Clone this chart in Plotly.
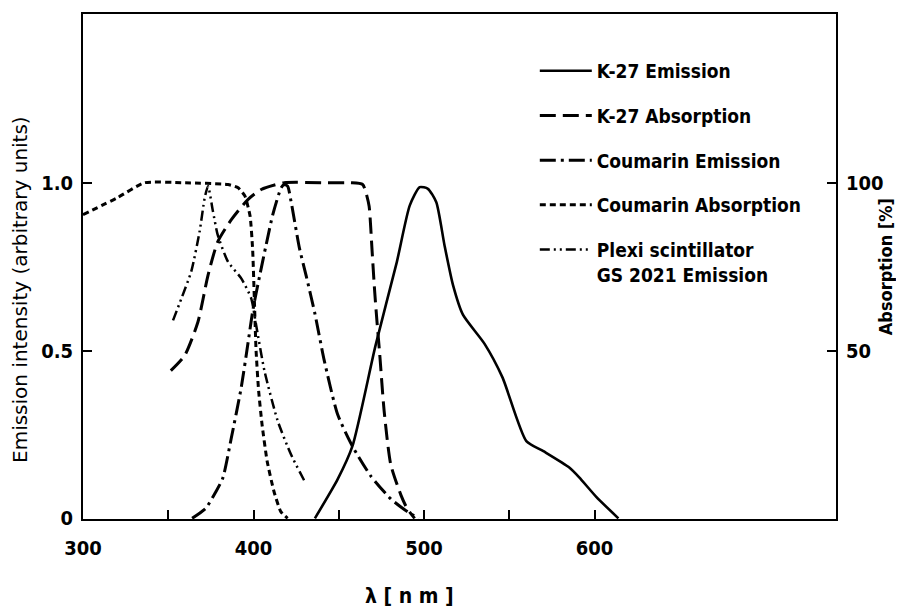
import plotly.graph_objects as go

# ---- data ----
k27_em_x = [436, 449.3, 458, 471.5, 484, 491.6, 497.5, 502.3, 507.2, 512, 517, 522.8, 535.5, 546, 560, 570, 585, 591, 601, 614]
k27_em_y = [0, 0.116, 0.215, 0.514, 0.763, 0.932, 0.987, 0.982, 0.942, 0.814, 0.695, 0.607, 0.52, 0.42, 0.23, 0.2, 0.152, 0.122, 0.064, 0]

k27_abs_x = [351.5, 359.6, 367.4, 373.3, 379, 387, 396.7, 404.5, 418, 441.5, 457, 464, 466, 467.8, 469.5, 471, 472.5, 474, 476.6, 480.5, 486.4, 490, 494.5]
k27_abs_y = [44, 48.5, 58.5, 72.4, 82.4, 89, 95, 98, 100, 100, 100, 99.5, 97, 93, 80, 68, 58, 49, 32, 16, 7, 3, 0]

cou_em_x = [364, 372, 378, 382, 387, 392.8, 396.7, 399.6, 403.5, 407.4, 411.3, 416.2, 418, 420, 422, 426.9, 431, 436, 441.5, 449.3, 458, 468.8, 480.5, 490.2, 497]
cou_em_y = [0, 0.03, 0.08, 0.12, 0.24, 0.39, 0.52, 0.62, 0.72, 0.815, 0.905, 0.985, 0.995, 0.99, 0.945, 0.806, 0.72, 0.61, 0.47, 0.31, 0.215, 0.126, 0.058, 0.02, 0]

cou_abs_x = [300, 320, 336, 360, 385, 391, 395, 398, 399.5, 400.5, 401.5, 403, 405, 408, 412, 416, 420]
cou_abs_y = [90.5, 95.5, 100, 100, 99.5, 98.5, 96, 90, 80, 65, 50, 38, 28, 17, 8, 2, 0]

plexi_x = [352.8, 357.7, 363.5, 368.4, 371.3, 373.3, 376.2, 379, 385, 392.8, 398.6, 401.5, 406.4, 414.2, 422, 429.8]
plexi_y = [0.59, 0.655, 0.736, 0.855, 0.953, 0.99, 0.915, 0.845, 0.765, 0.715, 0.656, 0.577, 0.44, 0.29, 0.19, 0.112]

x_tickvals = [300, 350, 400, 450, 500, 550, 600]
x_ticktext = ["300", "", "400", "", "500", "", "600"]
y_tickvals = [0, 0.5, 1.0]
y_ticktext = ["0", "0.5", "1.0"]
y2_tickvals = [50, 100]
y2_ticktext = ["50", "100"]

x_title = "λ [ n m ]"
y_title = "Emission intensity (arbitrary units)"
y2_title = "Absorption [%]"

FONT = "DejaVu Sans Condensed"
BLACK = "#000000"

fig = go.Figure()

def add(x, y, name, dash, width, yaxis="y", smoothing=0.6):
    fig.add_trace(go.Scatter(
        x=x, y=y, name=name, mode="lines", yaxis=yaxis,
        legendgroup=name,
        line=dict(color=BLACK, width=width, dash=dash, shape="spline", smoothing=smoothing),
    ))

add(k27_em_x, k27_em_y, "K-27 Emission", "solid", 2.6)
add(k27_abs_x, k27_abs_y, "K-27 Absorption", "16px,7px", 3, "y2")
add(cou_em_x, cou_em_y, "Coumarin Emission", "16px,5px,3px,5px", 3)
add(cou_abs_x, cou_abs_y, "Coumarin Absorption", "6px,4px", 3, "y2", 0.5)
add(plexi_x, plexi_y, "Plexi scintillator<br>GS 2021 Emission", "10px,4px,2px,4px,2px,4px", 2.5)

axis_common = dict(
    showline=True, linecolor=BLACK, linewidth=2,
    ticks="inside", ticklen=9, tickwidth=2, tickcolor=BLACK,
    showgrid=False, zeroline=False, automargin=False,
    tickfont=dict(family=FONT, size=20, color=BLACK, weight="bold"),
)

# the page body has an 8px margin, so the figure is sized 16px smaller
fig.update_layout(
    width=896, height=601,
    margin=dict(l=75, r=68, t=6, b=90),
    paper_bgcolor="white", plot_bgcolor="white",
    showlegend=True,
    legend=dict(
        x=0.60, y=0.925, xanchor="left", yanchor="top",
        font=dict(family=FONT, size=19, color=BLACK, weight="bold"),
        bgcolor="rgba(0,0,0,0)", tracegroupgap=17, valign="top",
        itemwidth=52,
    ),
    xaxis=dict(
        range=[300, 741.6], tickvals=x_tickvals, ticktext=x_ticktext,
        mirror=True, ticklabelstandoff=10,
        **axis_common,
    ),
    yaxis=dict(
        range=[-0.002, 1.503], tickvals=y_tickvals, ticktext=y_ticktext,
        ticklabelstandoff=4,
        **axis_common,
    ),
    yaxis2=dict(
        range=[-0.2, 150.3], tickvals=y2_tickvals, ticktext=y2_ticktext,
        overlaying="y", side="right", ticklabelstandoff=4,
        **axis_common,
    ),
    annotations=[
        dict(text=x_title, xref="paper", yref="paper", x=0.433, y=-0.152,
             xanchor="center", yanchor="middle", showarrow=False,
             font=dict(family=FONT, size=21, color=BLACK, weight="bold")),
        dict(text=y_title, xref="paper", yref="paper", x=-0.084, y=0.455,
             xanchor="center", yanchor="middle", showarrow=False, textangle=-90,
             font=dict(family="DejaVu Sans", size=20, color=BLACK)),
        dict(text=y2_title, xref="paper", yref="paper", x=1.066, y=0.5,
             xanchor="center", yanchor="middle", showarrow=False, textangle=-90,
             font=dict(family=FONT, size=18, color=BLACK, weight="bold")),
    ],
)

fig.write_html("out.html")
